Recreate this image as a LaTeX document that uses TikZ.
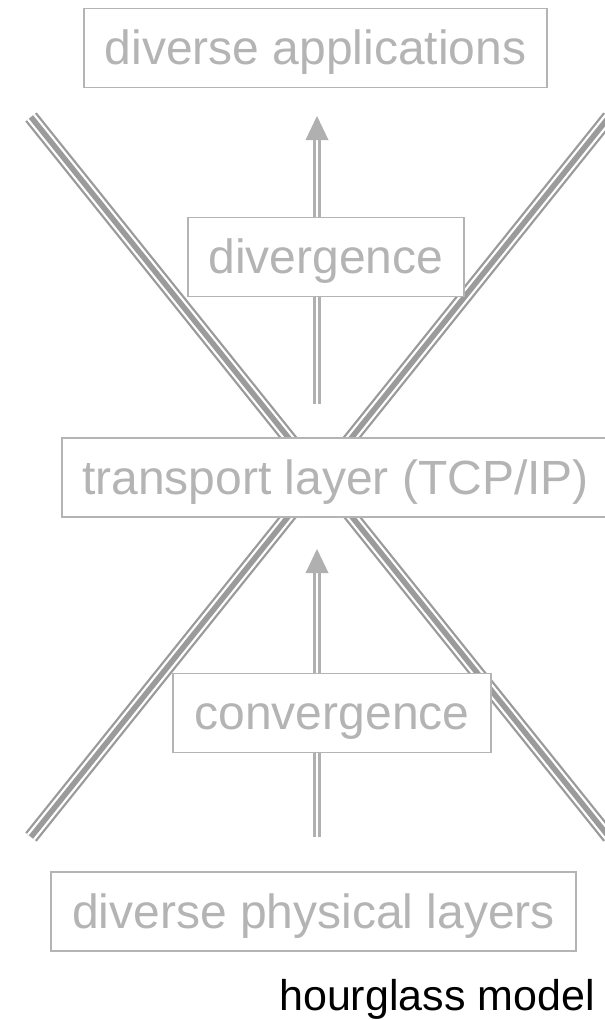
\documentclass[tikz,border=0pt]{standalone}
\usepackage{fontspec}
\setmainfont{Liberation Sans}
\definecolor{boxgray}{RGB}{180,180,180}
\definecolor{linegray}{RGB}{155,155,155}
\definecolor{arrowgray}{RGB}{176,176,176}
\begin{document}
\begin{tikzpicture}[x=1pt,y=-1pt,
  box/.style={draw=boxgray, line width=1.3pt, fill=white, text=boxgray, inner sep=0pt,
    minimum height=79pt, text height=33pt, text depth=0pt, font=\fontsize{48}{56}\selectfont},
  xouter/.style={draw=linegray, line width=2.3pt, double=white, double distance=10pt},
  xinner/.style={draw=linegray, line width=5.5pt},
  shaft/.style={draw=arrowgray, line width=2.8pt, double=white, double distance=2.4pt},
  head/.style={fill=arrowgray, draw=none}]
\useasboundingbox (0,0) rectangle (605,1020);
\clip (0,0) rectangle (605,1020);
% X lines
\coordinate (ul) at (31,117);
\coordinate (ur) at (609,117);
\coordinate (ll) at (31,837);
\coordinate (lr) at (609,837);
\draw[xouter] (ul) -- (lr);
\draw[xinner] (ul) -- (lr);
\draw[xouter] (ur) -- (ll);
\draw[xinner] (ur) -- (ll);
% arrows
\coordinate (u0) at (317,404);
\coordinate (u1) at (317,139);
\coordinate (u2) at (317,116);
\draw[shaft] (u0) -- (u1);
\fill[head] (u2) -- ++(-11.5,24) -- ++(23,0) -- cycle;
\coordinate (d0) at (317,837);
\coordinate (d1) at (317,572);
\coordinate (d2) at (317,549);
\draw[shaft] (d0) -- (d1);
\fill[head] (d2) -- ++(-11.5,24) -- ++(23,0) -- cycle;
% boxes
\node[box, minimum width=463pt] (app) at (315.5,48) {diverse applications};
\node[box, minimum width=276pt] (div) at (326,257) {divergence};
\node[box, minimum width=547pt] (tcp) at (335.5,477.5) {transport layer (TCP/IP)};
\node[box, minimum width=318pt] (conv) at (332,713) {convergence};
\node[box, minimum width=525pt] (phys) at (313.5,911.5) {diverse physical layers};
\node[anchor=base west, inner sep=0pt, font=\fontsize{43}{50}\selectfont] (cap) at (279,1010) {hourglass model};
\end{tikzpicture}
\end{document}
